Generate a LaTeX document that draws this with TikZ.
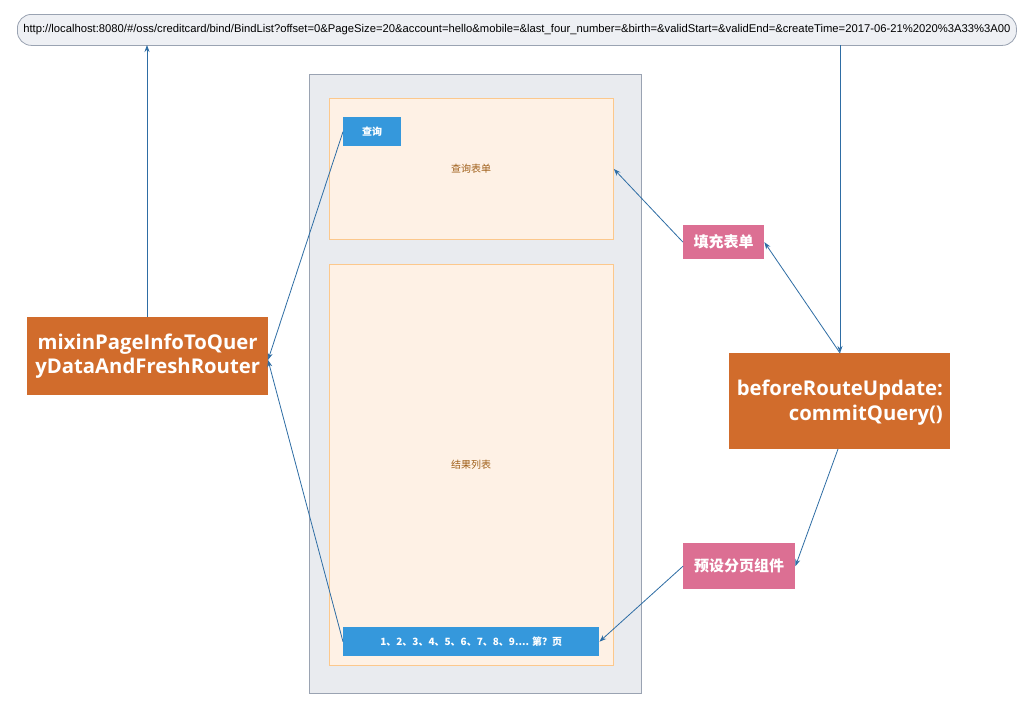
\documentclass[tikz,border=0pt]{standalone}
\usepackage{fontspec}
\setmainfont{Open Sans}
\newfontfamily\cjk{Noto Sans CJK SC}
\newfontfamily\urlfont{Liberation Sans}
\usetikzlibrary{arrows.meta}
\definecolor{arrowblue}{HTML}{2E6DA4}
\definecolor{urlfill}{HTML}{EEF0F4}
\definecolor{urlborder}{HTML}{9AA3B2}
\definecolor{pagefill}{HTML}{E9EBEF}
\definecolor{pageborder}{HTML}{9AA3B2}
\definecolor{panelfill}{HTML}{FEF1E5}
\definecolor{panelborder}{HTML}{FCC88C}
\definecolor{btnblue}{HTML}{3598DC}
\definecolor{pink}{HTML}{DC6F93}
\definecolor{orangebox}{HTML}{D16C2C}
\definecolor{paneltext}{HTML}{A0601A}
\tikzset{
  box/.style={rectangle, inner sep=0pt, anchor=north west},
  urlbar/.style={box, draw=urlborder, fill=urlfill, rounded corners=14pt, line width=0.8pt},
  pagebox/.style={box, draw=pageborder, fill=pagefill, line width=0.8pt},
  panel/.style={box, draw=panelborder, fill=panelfill, line width=0.8pt},
  btn/.style={box, fill=btnblue, text=white, font=\cjk\bfseries\fontsize{10}{12}\selectfont},
  tag/.style={box, fill=pink, text=white, font=\cjk\bfseries\fontsize{15}{18}\selectfont},
  fn/.style={box, fill=orangebox, text=white, font=\bfseries\fontsize{22}{25}\selectfont},
  conn/.style={draw=arrowblue, line width=0.8pt, -{Stealth[length=7pt,width=5pt]}},
}
\begin{document}
\begin{tikzpicture}[x=1pt,y=-1pt]
\useasboundingbox (0,0) rectangle (1027,705);
\fill[white] (0,0) rectangle (1027,705);
% url bar
\node[urlbar, minimum width=999pt, minimum height=31pt] (url) at (17,14) {};
\node[font=\urlfont\fontsize{11.25}{12}\selectfont, inner sep=0pt] (urltext) at (url.center) {http://localhost:8080/\#/oss/creditcard/bind/BindList?offset=0\&PageSize=20\&account=hello\&mobile=\&last\_four\_number=\&birth=\&validStart=\&validEnd=\&createTime=2017-06-21\%2020\%3A33\%3A00};
% page container
\node[pagebox, minimum width=332pt, minimum height=619pt] (page) at (309,74) {};
\node[panel, minimum width=284pt, minimum height=141pt] (form) at (329,98) {};
\node[font=\cjk\fontsize{10}{12}\selectfont, text=paneltext] (formlabel) at (471,169) {查询表单};
\node[panel, minimum width=284pt, minimum height=401pt] (list) at (329,264) {};
\node[font=\cjk\fontsize{10}{12}\selectfont, text=paneltext] (listlabel) at (471,465) {结果列表};
\node[btn, minimum width=58pt, minimum height=29pt] (query) at (343,117) {};
\node[font=\cjk\bfseries\fontsize{10}{12}\selectfont, text=white] (querytext) at (query.center) {查询};
\node[btn, minimum width=256pt, minimum height=29pt] (pager) at (343,627) {};
\node[font=\cjk\bfseries\fontsize{10}{12}\selectfont, text=white] (pagertext) at (pager.center) {1、2、3、4、5、6、7、8、9.... 第？页};
% tags
\node[tag, minimum width=81pt, minimum height=34pt] (fill) at (683,225) {};
\node[font=\cjk\bfseries\fontsize{15}{18}\selectfont, text=white] (filltext) at (fill.center) {填充表单};
\node[tag, minimum width=112pt, minimum height=46pt] (preset) at (683,543) {};
\node[font=\cjk\bfseries\fontsize{15}{18}\selectfont, text=white] (presettext) at (preset.center) {预设分页组件};
% function boxes
\node[fn, minimum width=241pt, minimum height=78pt] (mixin) at (27,317) {};
\node[font=\bfseries\fontsize{20.3}{24}\selectfont, text=white, align=center] (mixintext) at (mixin.center) {mixinPageInfoToQuer\\yDataAndFreshRouter};
\node[fn, minimum width=221pt, minimum height=96pt] (before) at (729,353) {};
\node[font=\bfseries\fontsize{20.3}{25}\selectfont, text=white, align=right, anchor=east] (beforetext) at ([xshift=-4pt,yshift=-1pt]before.east) {beforeRouteUpdate:\\commitQuery()};
% connectors
\coordinate (mixtop) at (147,317);
\coordinate (urlleft) at (147,45);
\coordinate (urlright) at (840,45);
\coordinate (beftop) at (840,353);
\coordinate (befbot) at (838,449);
\coordinate (mixright) at (268,360);
\draw[conn] (mixtop) -- (urlleft);
\draw[conn] (urlright) -- (beftop);
\draw[conn] (beftop) -- (fill.east);
\draw[conn] (fill.west) -- (form.east);
\draw[conn] (befbot) -- (preset.east);
\draw[conn] (preset.west) -- (pager.east);
\draw[conn] (query.west) -- (mixright);
\draw[conn] (pager.west) -- (mixright);
\end{tikzpicture}
\end{document}
